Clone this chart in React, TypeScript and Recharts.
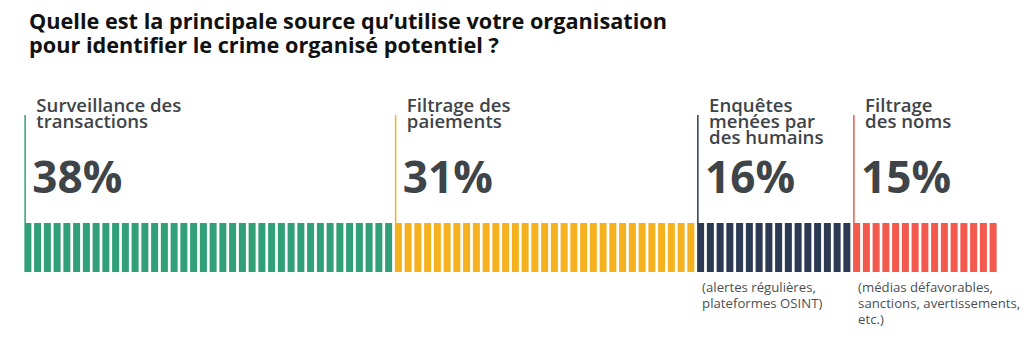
import { BarChart, Bar, XAxis, YAxis } from 'recharts';

// one entry per source, in the order shown left to right
const sourceLines = [
  ['Surveillance des', 'transactions'],
  ['Filtrage des', 'paiements'],
  ['Enquêtes', 'menées par', 'des humains'],
  ['Filtrage', 'des noms'],
];
const shares = [38, 31, 16, 15];
const notes = [
  [],
  [],
  ['(alertes régulières,', 'plateformes OSINT)'],
  ['(médias défavorables,', 'sanctions, avertissements,', 'etc.)'],
];

const COLORS = ['#31a078', '#f6b11f', '#2c3a54', '#f4594e'];
const FONT = "'Open Sans', 'Noto Sans', sans-serif";
const TEXT = '#3e4448';

// each share is split into 1% units, drawn as one thin bar each
const units = shares.flatMap((share, seg) =>
  Array.from({ length: share }, (_, k) => ({
    unit: `${seg}-${k}`,
    value: 1,
    seg,
    first: k === 0,
  }))
);

function UnitBar(props: any) {
  const { x, y, width, height, payload } = props;
  const seg = payload.seg;
  const color = COLORS[seg];
  const lines = sourceLines[seg];
  return (
    <g>
      <rect x={x} y={y} width={width} height={height} fill={color} />
      {payload.first && (
        <g fontFamily={FONT}>
          <line x1={x + 0.75} x2={x + 0.75} y1={y - 108} y2={y} stroke={color} strokeWidth={1.5} />
          <text x={x + 12} y={y - 111.5} fontSize={18.6} fontWeight={600} fill={TEXT}>
            {lines.map((l, i) => (
              <tspan key={i} x={x + 12} dy={i === 0 ? 0 : 16}>
                {l}
              </tspan>
            ))}
          </text>
          <text x={x + 8} y={y - 30} fontSize={44} fontWeight={700} fill={TEXT}>
            {shares[seg]}%
          </text>
          {notes[seg].length > 0 && (
            <text x={x + 5} y={y + 69} fontSize={13.2} fill="#4a4f53">
              {notes[seg].map((l, i) => (
                <tspan key={i} x={x + 5} dy={i === 0 ? 0 : 15.8}>
                  {l}
                </tspan>
              ))}
            </text>
          )}
        </g>
      )}
    </g>
  );
}

export default function App() {
  return (
    <div style={{ position: 'absolute', left: 0, top: 0, width: 1024, height: 364, background: '#fff' }}>
      <div
        style={{
          position: 'absolute',
          left: 29,
          top: 9,
          fontFamily: FONT,
          fontWeight: 700,
          fontSize: 21.7,
          lineHeight: '23.5px',
          color: '#111',
          zIndex: 1,
        }}
      >
        Quelle est la principale source qu’utilise votre organisation
        <br />
        pour identifier le crime organisé potentiel ?
      </div>
      <BarChart
        width={1024}
        height={364}
        data={units}
        margin={{ top: 223, right: 26, bottom: 92, left: 23 }}
        barCategoryGap="14%"
      >
        <XAxis dataKey="unit" hide />
        <YAxis domain={[0, 1]} hide />
        <Bar dataKey="value" isAnimationActive={false} shape={(p: any) => <UnitBar {...p} />} />
      </BarChart>
    </div>
  );
}
